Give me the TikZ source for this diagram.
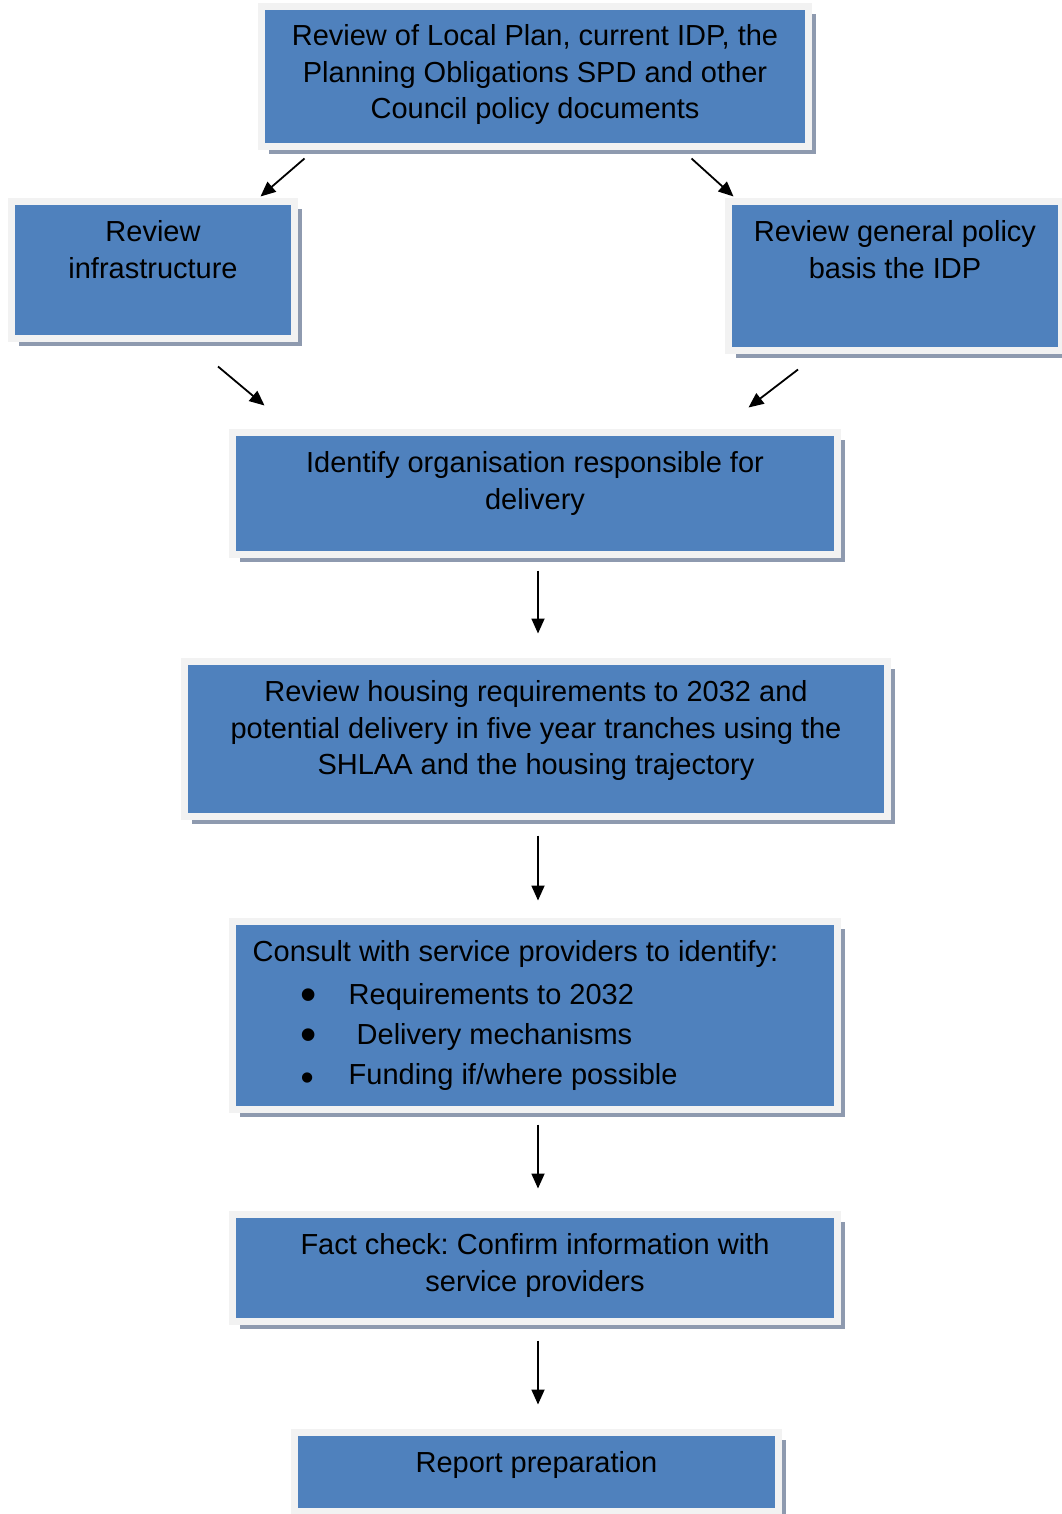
\documentclass[tikz,border=0pt]{standalone}
\usepackage{fontspec}
\usepackage{graphicx}
\setmainfont{Liberation Sans}
\usetikzlibrary{arrows.meta,shadows,positioning}

\definecolor{boxblue}{HTML}{4F81BD}
\definecolor{framegray}{HTML}{F2F2F2}
\definecolor{shadowgray}{HTML}{8E9AAF}

\newcommand{\bulletitem}[1][1.6]{\makebox[96pt][l]{\hspace{48pt}\raisebox{-5.5pt}{\scalebox{#1}{\textbullet}}}}

\tikzset{
  stage/.style={draw=framegray, line width=7pt, fill=boxblue, inner sep=0pt,
    drop shadow={shadow xshift=7.5pt, shadow yshift=-7.5pt, fill=shadowgray, opacity=1}},
  stagetext/.style={anchor=north, inner sep=0pt, align=center, font=\fontsize{29}{36.5}\selectfont},
  arr/.style={line width=1.8pt, -{Triangle[length=15pt,width=13pt]}}
}

\frenchspacing
\begin{document}
\begin{tikzpicture}[x=1pt,y=-1pt]
\useasboundingbox (0,0) rectangle (1061,1514);

% boxes
\node[stage, minimum width=547pt, minimum height=140pt] (plan) at (535,76.5) {};
\node[stage, minimum width=283pt, minimum height=137pt] (infra) at (153,270) {};
\node[stage, minimum width=333pt, minimum height=149pt] (policy) at (895,276) {};
\node[stage, minimum width=605pt, minimum height=122pt] (organisation) at (535,493.5) {};
\node[stage, minimum width=703pt, minimum height=155pt] (housing) at (536,739) {};
\node[stage, minimum width=605pt, minimum height=188pt] (consult) at (535,1015.5) {};
\node[stage, minimum width=605pt, minimum height=107pt] (factcheck) at (535,1268) {};
\node[stage, minimum width=484pt, minimum height=79pt] (report) at (536.5,1472) {};

% texts
\node[stagetext, below=21.5pt of plan.north] (plan-txt)
  {Review of Local Plan, current IDP, the\\Planning Obligations SPD and other\\Council policy documents};
\node[stagetext, below=22.5pt of infra.north] (infra-txt) {Review\\infrastructure};
\node[stagetext, below=22.5pt of policy.north] (policy-txt) {Review general policy\\basis the IDP};
\node[stagetext, below=22.5pt of organisation.north] (organisation-txt)
  {Identify organisation responsible for\\delivery};
\node[stagetext, below=22.5pt of housing.north] (housing-txt)
  {Review housing requirements to 2032 and\\potential delivery in five year tranches using the\\SHLAA and the housing trajectory};
\node[stagetext, align=left, anchor=north west, below right=22.5pt and 23.5pt of consult.north west] (consult-txt)
  {Consult with service providers to identify:\\[6.5pt]
   \bulletitem Requirements to 2032\\[3.5pt]
   \bulletitem\hspace{8pt}Delivery mechanisms\\[3.5pt]
   \bulletitem[1.3]Funding if/where possible};
\node[stagetext, below=22.5pt of factcheck.north] (factcheck-txt)
  {Fact check: Confirm information with\\service providers};
\node[stagetext, below=22.5pt of report.north] (report-txt) {Report preparation};

% arrows
\draw[arr] ([xshift=46.5pt,yshift=-8.5pt]plan.south west) -- ([xshift=-37.5pt,yshift=1.5pt]infra.north east);
\draw[arr] ([xshift=-120.5pt,yshift=-8.5pt]plan.south east) -- ([xshift=8.5pt,yshift=1.5pt]policy.north west);
\draw[arr] ([xshift=65pt,yshift=-24.5pt]infra.south) -- ([xshift=35.5pt,yshift=23.5pt]organisation.north west);
\draw[arr] ([xshift=-97pt,yshift=-15.5pt]policy.south) -- ([xshift=-92.5pt,yshift=21.5pt]organisation.north east);
\draw[arr] ([xshift=3pt,yshift=-12.5pt]organisation.south) -- ([xshift=2pt,yshift=24.5pt]housing.north);
\draw[arr] ([xshift=2pt,yshift=-15.5pt]housing.south) -- ([xshift=3pt,yshift=17.5pt]consult.north);
\draw[arr] ([xshift=3pt,yshift=-11.5pt]consult.south) -- ([xshift=3pt,yshift=22.5pt]factcheck.north);
\draw[arr] ([xshift=3pt,yshift=-15.5pt]factcheck.south) -- ([xshift=1.5pt,yshift=24.5pt]report.north);
\end{tikzpicture}
\end{document}
